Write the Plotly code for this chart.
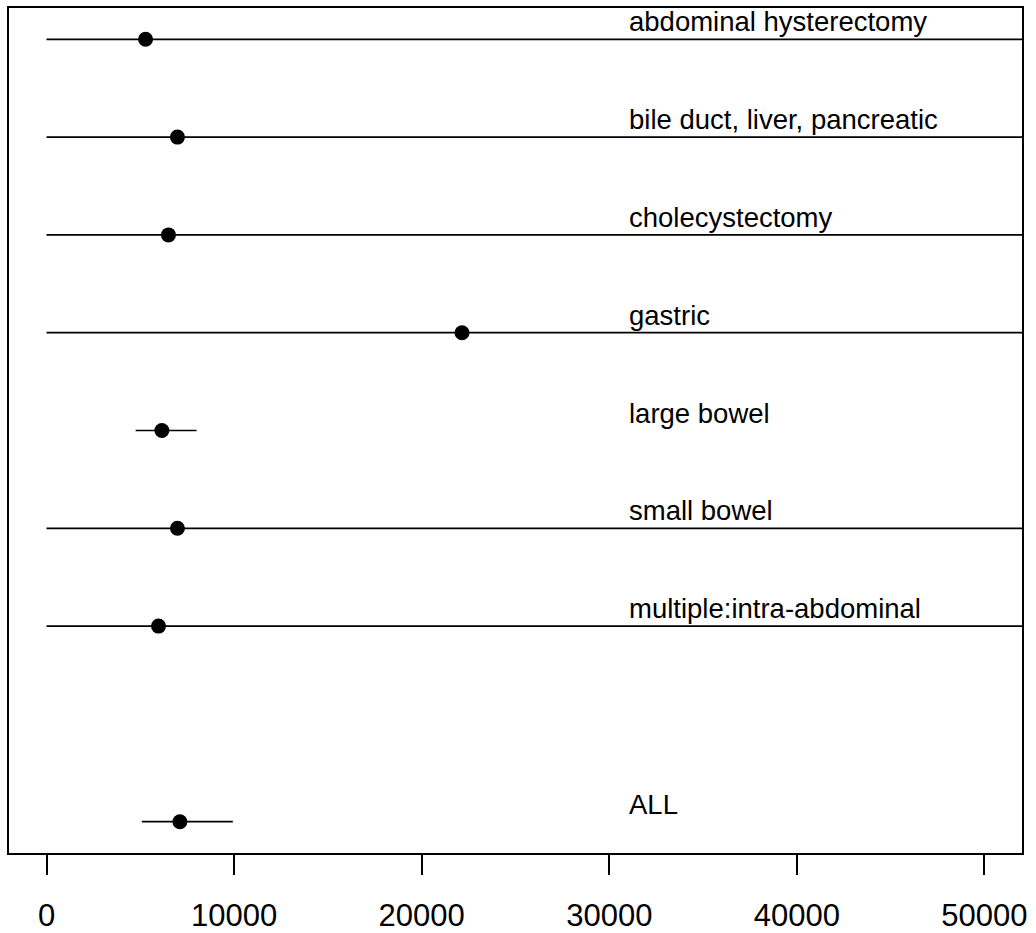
import plotly.graph_objects as go

categories = ["abdominal hysterectomy", "bile duct, liver, pancreatic", "cholecystectomy",
              "gastric", "large bowel", "small bowel", "multiple:intra-abdominal", "ALL"]
rows = [9, 8, 7, 6, 5, 4, 3, 1]
estimate = [5280, 6980, 6500, 22150, 6150, 6980, 5970, 7110]
lower = [0, 0, 0, 0, 4750, 0, 0, 5080]
upper = [60000, 60000, 60000, 60000, 8000, 60000, 60000, 9930]
tick_vals = [0, 10000, 20000, 30000, 40000, 50000]
label_x = 31000

fig = go.Figure()
for lo, hi, r in zip(lower, upper, rows):
    fig.add_trace(go.Scatter(x=[lo, hi], y=[r, r], mode="lines",
                             line=dict(color="black", width=1.7),
                             showlegend=False, hoverinfo="skip"))
fig.add_trace(go.Scatter(x=estimate, y=rows, mode="markers",
                         marker=dict(color="black", size=15, symbol="circle"),
                         showlegend=False))
for c, r in zip(categories, rows):
    fig.add_annotation(x=label_x, y=r, text=c, showarrow=False, xanchor="left",
                       yanchor="middle", yshift=17.5, borderpad=0,
                       font=dict(family="Liberation Sans, Arial", size=27.5, color="black"))

fig.update_layout(
    width=1036, height=933,
    margin=dict(l=9, r=14, t=8, b=80, autoexpand=False),
    plot_bgcolor="white", paper_bgcolor="white",
    showlegend=False,
    xaxis=dict(range=[-2000, 52000], tickvals=tick_vals,
               ticktext=[str(v) for v in tick_vals],
               ticks="outside", ticklen=20, tickwidth=1.5, tickcolor="black",
               showgrid=False, zeroline=False, showline=True, linecolor="black",
               linewidth=1.7, mirror=True, automargin=False,
               tickfont=dict(family="Liberation Sans, Arial", size=31, color="black"),
               ticklabelstandoff=14),
    yaxis=dict(range=[0.68, 9.32], showticklabels=False, ticks="",
               showgrid=False, zeroline=False, showline=True, linecolor="black",
               linewidth=1.7, mirror=True, automargin=False),
)
fig.write_html("out.html", config={"displayModeBar": False},
               post_script="document.body.style.margin='0';document.body.style.overflow='hidden';")
